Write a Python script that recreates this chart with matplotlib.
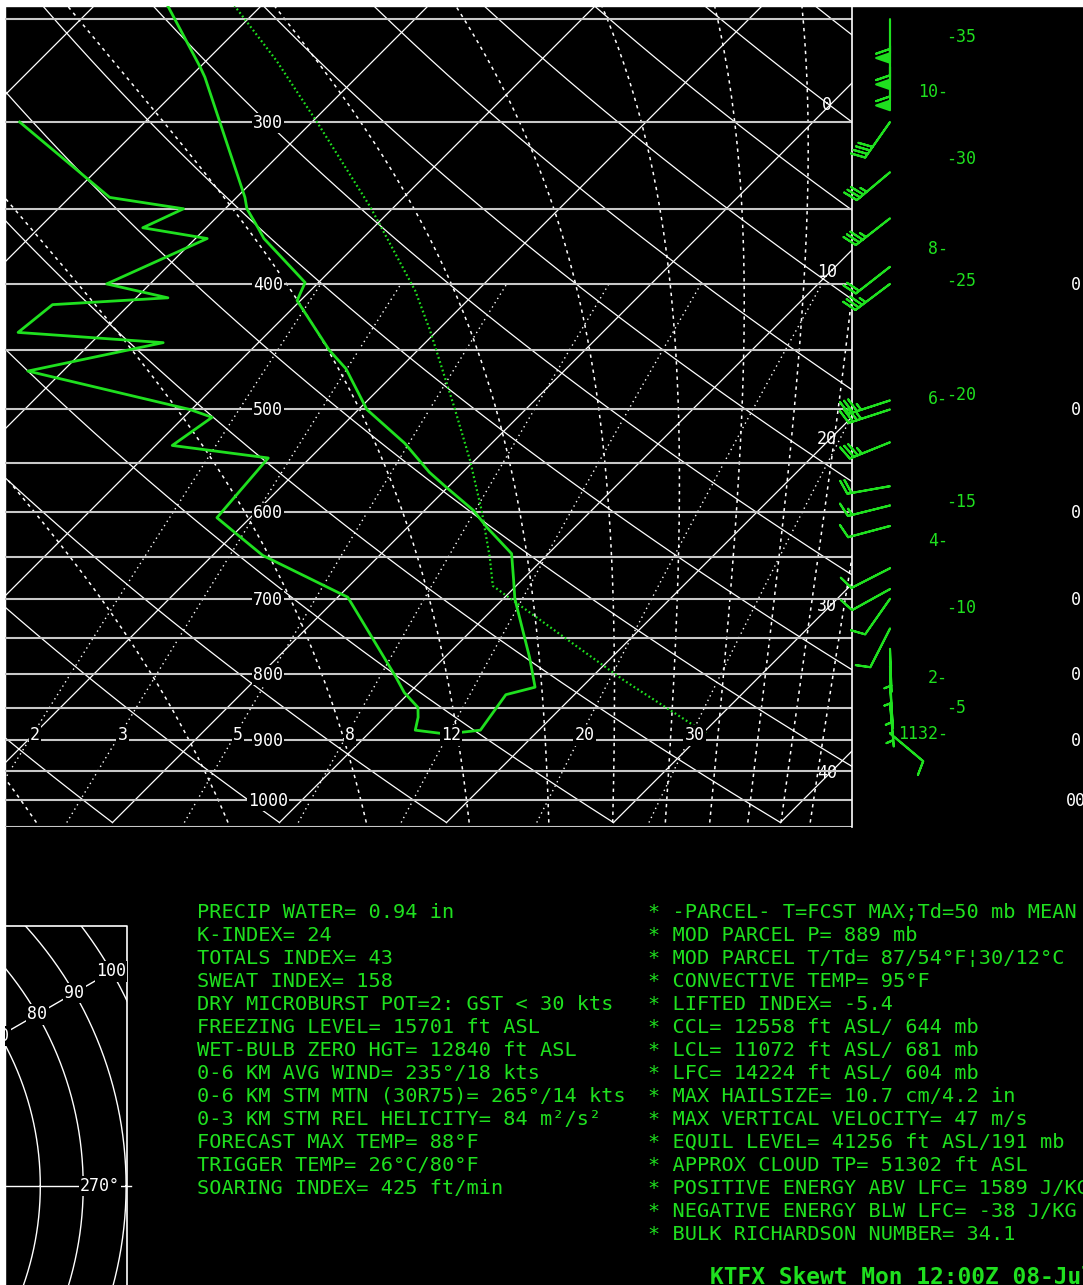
import numpy as np
import matplotlib
matplotlib.use("Agg")
import matplotlib.pyplot as plt
from matplotlib.transforms import Affine2D, blended_transform_factory

W, H = 1083, 1285
GREEN = "#1fe01f"
GRAY = "#c8c8c8"
MONO = "DejaVu Sans Mono"
KAPPA = 0.2857

# ---- sounding (mb, deg C) ----
temp_p = [244, 272, 277, 343, 350, 362, 369, 399, 412, 450, 465, 500, 531, 559,
          574, 598, 617, 646, 677, 700, 777, 819, 830, 884, 889]
temp_t = [-45.6, -40.0, -39.1, -29.5, -28.7, -26.9, -25.9, -20.8, -20.2, -15.3,
          -13.2, -9.5, -5.2, -2.0, -0.1, 2.9, 4.8, 7.8, 9.5, 10.7, 15.1, 17.2,
          15.9, 16.5, 15.0]
dewp_p = [300, 343, 350, 362, 369, 400, 410, 415, 436, 444, 467, 500, 507, 533,
          545, 606, 620, 648, 698, 805, 827, 849, 864, 884, 889]
dewp_t = [-47.5, -37.6, -32.5, -33.8, -29.3, -32.6, -28.1, -34.6, -35.0, -25.7,
          -32.1, -20.1, -18.3, -19.0, -12.5, -12.0, -10.3, -7.0, 0.6, 8.3, 9.7,
          11.4, 12.0, 12.6, 14.3]
parcel_p = [889, 809, 684, 650, 598, 547, 498, 434, 405, 349, 300, 269, 244]
parcel_t = [30.2, 22.1, 8.6, 6.7, 3.4, -0.3, -4.4, -10.5, -13.7, -21.4, -29.7,
            -35.8, -41.6]

wind_p = [250, 262, 272, 300, 328, 356, 388, 400, 492, 500, 530, 573, 593, 615,
          663, 688, 700, 738, 765, 789, 816, 843, 889]
wind_dir = [180, 180, 180, 215, 230, 232, 232, 233, 252, 252, 248, 260, 256, 255,
            243, 241, 215, 207, 178, 178, 176, 175, 130]
wind_spd = [60, 60, 60, 40, 35, 35, 20, 35, 35, 35, 35, 20, 15, 10,
            10, 10, 10, 10, 5, 5, 5, 5, 10]

kft_labels = ["-35", "-30", "-25", "-20", "-15", "-10", "-5"]
kft_p = [257.5, 320, 397, 486, 588, 710, 849]
km_labels = ["10-", "8-", "6-", "4-", "2-", "1132-"]
km_p = [284, 375, 490, 631, 804, 889]

isobars = np.arange(250, 1051, 50)
isobar_labels = [300, 400, 500, 600, 700, 800, 900, 1000]
isotherm_labels = [0, 10, 20, 30, 40]
mixing_ratios = [2, 3, 5, 8, 12, 20, 30]
side_p = [400, 500, 600, 700, 800, 900]

hodo_rings = np.arange(10, 101, 10)
hodo_ring_labels = [70, 80, 90, 100]

left_lines = [
    "PRECIP WATER= 0.94 in",
    "K-INDEX= 24",
    "TOTALS INDEX= 43",
    "SWEAT INDEX= 158",
    "DRY MICROBURST POT=2: GST < 30 kts",
    "FREEZING LEVEL= 15701 ft ASL",
    "WET-BULB ZERO HGT= 12840 ft ASL",
    "0-6 KM AVG WIND= 235°/18 kts",
    "0-6 KM STM MTN (30R75)= 265°/14 kts",
    "0-3 KM STM REL HELICITY= 84 m²/s²",
    "FORECAST MAX TEMP= 88°F",
    "TRIGGER TEMP= 26°C/80°F",
    "SOARING INDEX= 425 ft/min",
]
right_lines = [
    "* -PARCEL- T=FCST MAX;Td=50 mb MEAN",
    "* MOD PARCEL P= 889 mb",
    "* MOD PARCEL T/Td= 87/54°F¦30/12°C",
    "* CONVECTIVE TEMP= 95°F",
    "* LIFTED INDEX= -5.4",
    "* CCL= 12558 ft ASL/ 644 mb",
    "* LCL= 11072 ft ASL/ 681 mb",
    "* LFC= 14224 ft ASL/ 604 mb",
    "* MAX HAILSIZE= 10.7 cm/4.2 in",
    "* MAX VERTICAL VELOCITY= 47 m/s",
    "* EQUIL LEVEL= 41256 ft ASL/191 mb",
    "* APPROX CLOUD TP= 51302 ft ASL",
    "* POSITIVE ENERGY ABV LFC= 1589 J/KG",
    "* NEGATIVE ENERGY BLW LFC= -38 J/KG",
    "* BULK RICHARDSON NUMBER= 34.1",
]
title = "KTFX Skewt Mon 12:00Z 08-Jul"


def dewpoint(e):
    a = np.log(e / 6.112)
    return 243.5 * a / (17.67 - a)


def theta_e(tk, p):
    tc = tk - 273.15
    es = 6.112 * np.exp(17.67 * tc / (tc + 243.5))
    ws = 0.622 * es / (p - es)
    return tk * (1000.0 / p) ** KAPPA * np.exp(2.5e6 * ws / (1004.0 * tk))


def moist_temp(the, p):
    lo = np.full_like(p, 150.0)
    hi = np.full_like(p, 330.0)
    for _ in range(50):
        mid = 0.5 * (lo + hi)
        below = theta_e(mid, p) < the
        lo = np.where(below, mid, lo)
        hi = np.where(below, hi, mid)
    return 0.5 * (lo + hi) - 273.15


fig = plt.figure(figsize=(W / 100, H / 100), dpi=100, facecolor="black")
bg = fig.add_axes([0, 0, 1, 1])
bg.set_xlim(0, W)
bg.set_ylim(H, 0)
bg.set_axis_off()
bg.add_patch(plt.Rectangle((0, 0), W, 6, color="white", zorder=10))
bg.add_patch(plt.Rectangle((0, 0), 5, H, color="white", zorder=10))

# skew-T panel
X0, X1, Y0, Y1 = 5, 852, 6, 827
PX_PER_C = 16.7
ax = fig.add_axes([X0 / W, 1 - Y1 / H, (X1 - X0) / W, (Y1 - Y0) / H])
ax.set_yscale("log")
ax.set_ylim(1050, 244.1)
tmin = -(108 - X0) / PX_PER_C
ax.set_xlim(tmin, tmin + (X1 - X0) / PX_PER_C)
ax.set_autoscale_on(False)
ax.set_axis_off()
y_bot = ax.bbox.y0
skew = ax.transData + Affine2D().translate(0, -y_bot).skew_deg(45, 0).translate(0, y_bot)
bt = blended_transform_factory(bg.transData, ax.transData)

P_BASE = 1041.7
p_all = np.geomspace(P_BASE, 240, 160)

for t in range(-110, 50, 10):
    ax.plot([t, t], [P_BASE, 240], color="white", lw=0.9, transform=skew, zorder=1)
for tb in range(-10, 150, 10):
    theta = (tb + 273.15) * (1000 / P_BASE) ** KAPPA
    ax.plot(theta * (p_all / 1000) ** KAPPA - 273.15, p_all, color="white",
            lw=0.9, transform=skew, zorder=1)
for the in range(272, 480, 20):
    ax.plot(moist_temp(the, p_all), p_all, color="white", lw=1.1,
            ls=(0, (2.2, 2.8)), transform=skew, zorder=1)
pm = np.geomspace(P_BASE, 400, 80)
for w in mixing_ratios:
    ax.plot(dewpoint(w * pm / (622 + w)), pm, color="white", lw=1.0,
            ls=(0, (1, 2.6)), transform=skew, zorder=1)
for p in isobars:
    ax.axhline(p, color=GRAY, lw=1.5, zorder=1.5)
ax.plot([1, 1], [0, 1], transform=ax.transAxes, color="white", lw=1.2,
        clip_on=False, zorder=2)

# traces
ax.plot(parcel_t, parcel_p, color=GREEN, lw=1.6, ls=(0, (0.8, 1.2)),
        transform=skew, zorder=4)
ax.plot(temp_t, temp_p, color=GREEN, lw=2.0, transform=skew, zorder=4)
ax.plot(dewp_t, dewp_p, color=GREEN, lw=2.0, transform=skew, zorder=4)

lab = dict(family=MONO, fontsize=12, color="white", zorder=5,
           textcoords="offset pixels", va="baseline")
box = dict(fc="black", ec="none", pad=1.0)
for p in isobar_labels:
    ax.annotate(str(p), (268, p), xycoords=bt, xytext=(0, -6), ha="center",
                bbox=box, **lab)
for w in mixing_ratios:
    ax.annotate(str(w), (dewpoint(w * 900 / (622 + w)), 900), xycoords=skew,
                xytext=(6, 0), ha="center", bbox=box, **lab)
for t in isotherm_labels:
    xd = ax.transData.transform((t, 1000))[0]
    yd = (831 - xd) + y_bot
    bg.text(827, H - yd + 6, str(t), family=MONO, fontsize=12, color="white",
            ha="center", va="baseline", bbox=box, zorder=5)

# wind barbs
rad = np.deg2rad(wind_dir)
u = -np.array(wind_spd) * np.sin(rad)
v = -np.array(wind_spd) * np.cos(rad)
ax.barbs(np.full(len(wind_p), 890.0), wind_p, u, v, transform=bt, length=7.9,
         barbcolor=GREEN, flagcolor=GREEN, linewidth=1.5, clip_on=False,
         sizes=dict(spacing=0.1, height=0.32, width=0.22), zorder=6)

glab = dict(family=MONO, fontsize=12, color=GREEN, textcoords="offset pixels",
            va="baseline")
for s, p in zip(kft_labels, kft_p):
    ax.annotate(s, (946, p), xycoords=bt, xytext=(0, -6), ha="left", **glab)
for s, p in zip(km_labels, km_p):
    ax.annotate(s, (948, p), xycoords=bt, xytext=(0, -6), ha="right", **glab)
for p in side_p:
    ax.annotate("0", (1071, p), xycoords=bt, xytext=(0, -6), ha="left",
                family=MONO, fontsize=12, color="white",
                textcoords="offset pixels", va="baseline")
ax.annotate("00", (1066, 1000), xycoords=bt, xytext=(0, -6), ha="left",
            family=MONO, fontsize=12, color="white",
            textcoords="offset pixels", va="baseline")

# text panels
for i, s in enumerate(left_lines):
    bg.text(197, 918 + 23 * i, s, family=MONO, fontsize=14.6, color=GREEN,
            va="baseline", ha="left")
for i, s in enumerate(right_lines):
    bg.text(648, 918 + 23 * i, s, family=MONO, fontsize=14.6, color=GREEN,
            va="baseline", ha="left")
bg.text(710, 1284, title, family=MONO, fontsize=16.5, fontweight="bold",
        color=GREEN, va="baseline", ha="left")

# hodograph (partly off the image)
HX0, HX1, HY0, HY1 = 5, 127, 926, 1285
HCX, HCY, HSC = -260, 1186, 4.29
axh = fig.add_axes([HX0 / W, 1 - HY1 / H, (HX1 - HX0) / W, (HY1 - HY0) / H])
axh.set_xlim((HX0 - HCX) / HSC, (HX1 - HCX) / HSC)
axh.set_ylim(-(HY1 - HCY) / HSC, (HCY - HY0) / HSC)
axh.set_axis_off()
ang = np.linspace(0, 2 * np.pi, 1440)
for r in hodo_rings:
    axh.plot(r * np.cos(ang), r * np.sin(ang), color="white", lw=1.0)
a30 = np.deg2rad(30)
axh.plot([0, 115 * np.cos(a30)], [0, 115 * np.sin(a30)], color="white", lw=1.0)
for r in hodo_ring_labels:
    axh.text(r * np.cos(a30), r * np.sin(a30), str(r), family=MONO, fontsize=12,
             color="white", ha="center", va="center", bbox=box, clip_on=True)
axh.plot([0, (131 - HCX) / HSC], [0, 0], color="white", lw=1.0, clip_on=False)
axh.text((100 - HCX) / HSC, 0, "270°", family=MONO, fontsize=12, color="white",
         ha="center", va="center", bbox=box, clip_on=True)
axh.plot([0, 1, 1], [1, 1, 0], transform=axh.transAxes, color="white", lw=1.2,
         clip_on=False)

fig.savefig("out.png", dpi=100, facecolor="black")
